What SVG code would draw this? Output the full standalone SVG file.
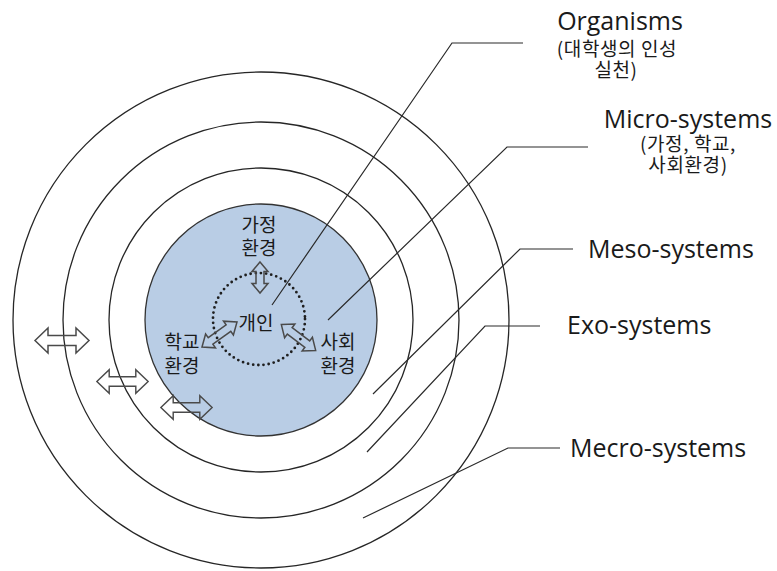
<svg xmlns="http://www.w3.org/2000/svg" xmlns:xlink="http://www.w3.org/1999/xlink" width="777" height="571" viewBox="0 0 777 571">
  <style>
    .ring { fill: none; stroke: #262626; stroke-width: 1.3; }
    .core { fill: #b9cde5; stroke: #333333; stroke-width: 1.3; }
    .dots { fill: none; stroke: #1f1f1f; stroke-width: 2.8; stroke-linecap: round; stroke-dasharray: 0 5.2; }
    .lead { fill: none; stroke: #2a2a2a; stroke-width: 1.2; }
    .arw  { fill: none; stroke: #4a4a4a; stroke-width: 1.5; stroke-linejoin: miter; }
    .en   { font-family: "Open Sans", "Noto Sans", sans-serif; font-size: 25px; fill: #1a1a1a; }
    .ko   { font-family: "Noto Sans CJK KR", "Noto Sans", sans-serif; fill: #1a1a1a; }
    .ko-s { font-size: 19px; letter-spacing: 0.6px; }
    .ko-m { font-size: 19px; }
  </style>
  <defs>
    <!-- wide two-headed block arrow between the layers -->
    <path id="dbl-wide" d="M-27,0 L-14,-12.5 L-14,-5 L14,-5 L14,-12.5 L27,0 L14,12.5 L14,5 L-14,5 L-14,12.5 Z"/>
    <!-- small two-headed block arrow around the individual -->
    <path id="dbl-small" d="M-21.5,0 L-11,-8.5 L-11,-4 L11,-4 L11,-8.5 L21.5,0 L11,8.5 L11,4 L-11,4 L-11,8.5 Z"/>
    <path id="dbl-vert" d="M0,-15.5 L8,-6 L4,-6 L4,6 L8,6 L0,15.5 L-8,6 L-4,6 L-4,-6 L-8,-6 Z"/>
  </defs>

  <rect width="777" height="571" fill="#ffffff"/>

  <!-- nested system rings -->
  <g id="macro-ring"><circle class="ring" cx="261" cy="320" r="248"/></g>
  <g id="exo-ring"><circle class="ring" cx="261" cy="320" r="198"/></g>
  <g id="meso-ring"><circle class="ring" cx="261" cy="320" r="152"/></g>
  <g id="micro-core">
    <circle class="core" cx="261" cy="320" r="116"/>
    <text class="ko ko-m" x="259" y="232" text-anchor="middle">가정</text>
    <text class="ko ko-m" x="259" y="255" text-anchor="middle">환경</text>
    <text class="ko ko-m" x="182" y="349" text-anchor="middle">학교</text>
    <text class="ko ko-m" x="182" y="373" text-anchor="middle">환경</text>
    <text class="ko ko-m" x="338" y="349" text-anchor="middle">사회</text>
    <text class="ko ko-m" x="338" y="373" text-anchor="middle">환경</text>
  </g>
  <g id="individual">
    <circle class="dots" cx="259" cy="319" r="46"/>
    <text class="ko ko-m" x="256" y="330" text-anchor="middle">개인</text>
  </g>

  <!-- labels -->
  <g id="label-organisms">
    <text class="en" x="620" y="30" text-anchor="middle">Organisms</text>
    <text class="ko ko-s" x="617" y="56" text-anchor="middle">(대학생의 인성</text>
    <text class="ko ko-s" x="616" y="77" text-anchor="middle">실천)</text>
  </g>
  <g id="label-micro">
    <text class="en" x="688" y="128" text-anchor="middle">Micro-systems</text>
    <text class="ko ko-s" x="688" y="151" text-anchor="middle">(가정, 학교,</text>
    <text class="ko ko-s" x="688" y="172" text-anchor="middle">사회환경)</text>
  </g>
  <g id="label-meso"><text class="en" x="588" y="258">Meso-systems</text></g>
  <g id="label-exo"><text class="en" x="567" y="334">Exo-systems</text></g>
  <g id="label-macro"><text class="en" x="570" y="457">Mecro-systems</text></g>

  <!-- leader lines and interaction arrows -->
  <g id="connectors">
    <polyline class="lead" points="523,43 452,43 272,305"/>
    <polyline class="lead" points="588,147 507,147 328,320"/>
    <polyline class="lead" points="573,249 520,249 373,394"/>
    <polyline class="lead" points="540,326 485,326 367,452"/>
    <polyline class="lead" points="560,448 508,448 363,518"/>

    <use xlink:href="#dbl-wide" class="arw" transform="translate(62,340.5)"/>
    <use xlink:href="#dbl-wide" class="arw" transform="translate(122.5,381.5) scale(0.95)"/>
    <use xlink:href="#dbl-wide" class="arw" transform="translate(186.5,407.5) scale(0.95)"/>

    <use xlink:href="#dbl-vert" class="arw" transform="translate(260,277.5)"/>
    <use xlink:href="#dbl-small" class="arw" transform="translate(219.5,334.5) rotate(-35.5)"/>
    <use xlink:href="#dbl-small" class="arw" transform="translate(298.5,337.5) rotate(37)"/>
  </g>
</svg>
